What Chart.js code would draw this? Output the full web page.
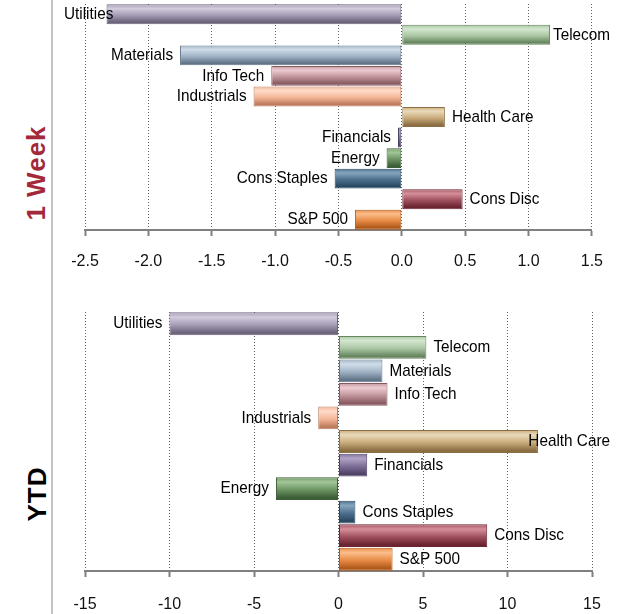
<!DOCTYPE html>
<html>
<head>
<meta charset="utf-8">
<script src="https://cdn.jsdelivr.net/npm/chart.js@4.4.1/dist/chart.umd.min.js"></script>
<style>
  body { margin: 0; background: #fff; }
  #wrap { position: relative; width: 619px; height: 614px; overflow: hidden; }
  #wrap canvas { position: absolute; left: 0; }
  .rule { position: absolute; left: 51px; top: 0; width: 2px; height: 614px; background: #c3c3c3; }
  .side { position: absolute; white-space: nowrap; font-family: "Liberation Sans", Arial, sans-serif;
          font-weight: bold; font-size: 26px; letter-spacing: 1px;
          transform: translate(-50%, -50%) rotate(-90deg); }
</style>
</head>
<body>
<div id="wrap">
  <div class="rule"></div>
  <div class="side" style="left:36px;top:173px;color:#a3293a;">1 Week</div>
  <div class="side" style="left:37px;top:494px;color:#000;">YTD</div>
  <canvas id="weekChart" width="619" height="290" style="top:0"></canvas>
  <canvas id="ytdChart" width="619" height="340" style="top:290px"></canvas>
</div>
<script>
const categories = ['Utilities', 'Telecom', 'Materials', 'Info Tech', 'Industrials', 'Health Care',
                    'Financials', 'Energy', 'Cons Staples', 'Cons Disc', 'S&P 500'];
const weekValues = [-2.33, 1.17, -1.75, -1.03, -1.17, 0.34, -0.03, -0.12, -0.53, 0.48, -0.37];
const ytdValues = [-10.0, 5.2, 2.6, 2.9, -1.2, 11.8, 1.7, -3.7, 1.0, 8.8, 3.2];
const weekTicks = [-2.5, 1.5, 0.5];
const ytdTicks = [-15, 15, 5];

// light, base, dark per sector
const barColors = [
  ['#d2ccde', '#a49cb4', '#6b647b'],
  ['#d3e6ce', '#a9c6a2', '#66855f'],
  ['#d0dde8', '#9fb2c4', '#627588'],
  ['#eccbd0', '#c0939b', '#875a62'],
  ['#ffdcca', '#f4b596', '#bd7b5d'],
  ['#eadab9', '#c9ab7c', '#8b6f43'],
  ['#b0a3c6', '#7e6e98', '#4f4267'],
  ['#a3c699', '#6c9462', '#3d5f37'],
  ['#86a5be', '#4c6f8e', '#2a4760'],
  ['#d68f9a', '#a0505e', '#6b2532'],
  ['#fbbe8c', '#e88a45', '#ae591a']
];

const fontFamily = '"Liberation Sans", Arial, sans-serif';
const labelSquash = 0.9;

function barFill(c) {
  const chart = c.chart;
  const col = barColors[c.dataIndex];
  if (!chart.chartArea || !chart.scales.y) return col[1];
  const y = chart.scales.y.getPixelForValue(c.dataIndex);
  const half = chart.scales.y.height / categories.length / 2;
  const g = chart.ctx.createLinearGradient(0, y - half, 0, y + half);
  g.addColorStop(0, col[1]);
  g.addColorStop(0.22, col[0]);
  g.addColorStop(0.55, col[1]);
  g.addColorStop(0.88, col[2]);
  g.addColorStop(1, col[2]);
  return g;
}

// sector name next to the end of each bar, kept inside the panel
const sectorLabels = {
  id: 'sectorLabels',
  afterDatasetsDraw(chart) {
    const ctx = chart.ctx;
    const vals = chart.data.datasets[0].data;
    ctx.save();
    ctx.font = '17px ' + fontFamily;
    ctx.fillStyle = '#000';
    ctx.textBaseline = 'middle';
    ctx.textAlign = 'left';
    chart.getDatasetMeta(0).data.forEach((bar, i) => {
      const w = ctx.measureText(categories[i]).width * labelSquash;
      let x = vals[i] < 0 ? bar.x - 7 - w : bar.x + 7;
      x = Math.max(64, Math.min(x, chart.width - 9 - w));
      ctx.save();
      ctx.translate(x, bar.y);
      ctx.scale(labelSquash, 1);
      ctx.fillText(categories[i], 0, 0);
      ctx.restore();
    });
    ctx.restore();
  }
};

function makeChart(id, values, ticks, decimals, pad, tickPad, bottomAt) {
  const chart = new Chart(id, {
    type: 'bar',
    data: {
      labels: categories,
      datasets: [{
        data: values,
        backgroundColor: barFill,
        borderColor: (c) => barColors[c.dataIndex][2],
        borderWidth: 1,
        borderSkipped: false,
        barPercentage: 1,
        categoryPercentage: 0.97
      }]
    },
    options: {
      indexAxis: 'y',
      responsive: false,
      animation: false,
      devicePixelRatio: 1,
      layout: { padding: pad },
      plugins: { legend: { display: false }, tooltip: { enabled: false } },
      scales: {
        y: { display: false },
        x: {
          min: ticks[0],
          max: ticks[1],
          ticks: {
            stepSize: ticks[2],
            padding: tickPad,
            color: '#111',
            font: { family: fontFamily, size: 16 },
            callback: (v) => Number(v).toFixed(decimals)
          },
          grid: {
            color: '#606060',
            lineWidth: 1,
            tickLength: 6,
            tickColor: '#808080',
            tickWidth: 2,
            tickBorderDash: []
          },
          // in v4 border.dash sets the dashes of the grid lines
          border: { display: true, color: '#808080', width: 2, dash: [1, 2] }
        }
      }
    },
    plugins: [sectorLabels]
  });
  // put the axis line where the reference has it
  chart.options.layout.padding.bottom += chart.chartArea.bottom - bottomAt;
  chart.update();
  return chart;
}

makeChart('weekChart', weekValues, weekTicks, 1, { left: 85, right: 27, top: 4, bottom: 20 }, 16, 230);
makeChart('ytdChart', ytdValues, ytdTicks, 0, { left: 85, right: 27, top: 22, bottom: 20 }, 18, 281);
</script>
</body>
</html>
